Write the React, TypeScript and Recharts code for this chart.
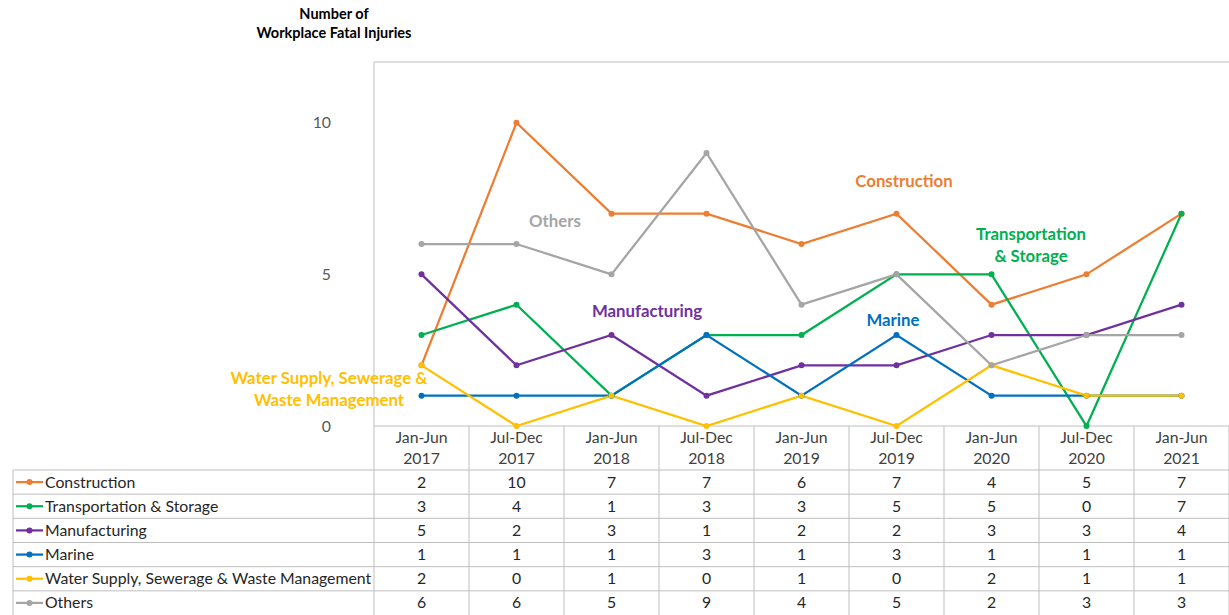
import React from "react";
import { LineChart, Line, XAxis, YAxis, ReferenceLine } from "recharts";

const periods = [
  "Jan-Jun 2017",
  "Jul-Dec 2017",
  "Jan-Jun 2018",
  "Jul-Dec 2018",
  "Jan-Jun 2019",
  "Jul-Dec 2019",
  "Jan-Jun 2020",
  "Jul-Dec 2020",
  "Jan-Jun 2021",
];

const construction = [2, 10, 7, 7, 6, 7, 4, 5, 7];
const transport = [3, 4, 1, 3, 3, 5, 5, 0, 7];
const manufacturing = [5, 2, 3, 1, 2, 2, 3, 3, 4];
const marine = [1, 1, 1, 3, 1, 3, 1, 1, 1];
const water = [2, 0, 1, 0, 1, 0, 2, 1, 1];
const others = [6, 6, 5, 9, 4, 5, 2, 3, 3];

const yTicks = [0, 5, 10];

const series = [
  { key: "construction", name: "Construction", color: "#ED7D31", values: construction },
  { key: "transport", name: "Transportation & Storage", color: "#00B050", values: transport },
  { key: "manufacturing", name: "Manufacturing", color: "#7030A0", values: manufacturing },
  { key: "marine", name: "Marine", color: "#0070C0", values: marine },
  { key: "water", name: "Water Supply, Sewerage & Waste Management", color: "#FFC000", values: water },
  { key: "others", name: "Others", color: "#A5A5A5", values: others },
];

const data = periods.map((p, i) => {
  const row: Record<string, string | number> = { period: p };
  series.forEach((s) => (row[s.key] = s.values[i]));
  return row;
});

const W = 1229;
const H = 615;
const PLOT_LEFT = 374;
const PLOT_TOP = 62;
const AXIS_Y = 426;
const HEADER_BOTTOM = 470;
const ROW_H = (H - HEADER_BOTTOM) / 6;
const COL_W = (W - PLOT_LEFT) / periods.length;
const GRID = "#BFBFBF";
const FONT = "Lato, 'Open Sans', sans-serif";
const TEXT = "#262626";
const FS = 15.8;

function ColumnTick(props: any) {
  const { x, payload } = props;
  const idx = payload.index;
  const [half, year] = String(payload.value).split(" ");
  const left = x - COL_W / 2;
  return (
    <g fontFamily={FONT}>
      <line x1={left} x2={left} y1={AXIS_Y} y2={H} stroke={GRID} />
      {idx === periods.length - 1 && (
        <line x1={left + COL_W} x2={left + COL_W} y1={AXIS_Y} y2={H} stroke={GRID} />
      )}
      <text x={x} y={443} textAnchor="middle" fontSize={FS} fill="#404040">
        {half}
      </text>
      <text x={x} y={464} textAnchor="middle" fontSize={FS} fill="#404040">
        {year}
      </text>
      {series.map((s, r) => (
        <text
          key={s.key}
          x={x}
          y={HEADER_BOTTOM + ROW_H * r + ROW_H / 2 + 5.5}
          textAnchor="middle"
          fontSize={FS}
          fill={TEXT}
        >
          {s.values[idx]}
        </text>
      ))}
    </g>
  );
}

const annotations = [
  { lines: ["Construction"], x: 904, y: 181, color: "#ED7D31" },
  { lines: ["Transportation", "& Storage"], x: 1031, y: 234, color: "#00B050" },
  { lines: ["Others"], x: 555, y: 221, color: "#A5A5A5" },
  { lines: ["Manufacturing"], x: 647, y: 311, color: "#7030A0" },
  { lines: ["Marine"], x: 893, y: 320, color: "#0070C0" },
  { lines: ["Water Supply, Sewerage &", "Waste Management"], x: 329, y: 378, color: "#FFC000" },
];

export default function App() {
  return (
    <div style={{ position: "absolute", left: 0, top: 0, width: W, height: H, background: "#fff" }}>
      <LineChart
        width={W}
        height={H}
        data={data}
        margin={{ top: PLOT_TOP, right: 0, bottom: 0, left: 0 }}
      >
        <XAxis
          dataKey="period"
          height={H - AXIS_Y}
          padding={{ left: COL_W / 2, right: COL_W / 2 }}
          axisLine={{ stroke: GRID }}
          tickLine={false}
          tickSize={0}
          interval={0}
          tick={<ColumnTick />}
        />
        <YAxis
          width={PLOT_LEFT}
          domain={[0, 12]}
          ticks={yTicks}
          axisLine={{ stroke: GRID }}
          tickLine={false}
          tickSize={0}
          tickMargin={43}
          tick={{ fontSize: FS, fill: "#595959", fontFamily: FONT }}
        />
        <ReferenceLine y={12} stroke={GRID} />
        {series.map((s) => (
          <Line
            key={s.key}
            dataKey={s.key}
            name={s.name}
            stroke={s.color}
            strokeWidth={2.25}
            dot={{ r: 3, fill: s.color, stroke: s.color, strokeWidth: 0 }}
            isAnimationActive={false}
          />
        ))}
      </LineChart>
      <svg
        width={W}
        height={H}
        style={{ position: "absolute", left: 0, top: 0, pointerEvents: "none" }}
        fontFamily={FONT}
      >
        <text x={334} y={19} textAnchor="middle" fontSize={14.5} fontWeight={700} fill="#000">
          Number of
        </text>
        <text x={334} y={38} textAnchor="middle" fontSize={14.5} fontWeight={700} fill="#000">
          Workplace Fatal Injuries
        </text>
        {annotations.map((a) =>
          a.lines.map((ln, i) => (
            <text
              key={a.color + i}
              x={a.x}
              y={a.y + i * 22 + 5.5}
              textAnchor="middle"
              fontSize={16.8}
              fontWeight={700}
              fill={a.color}
            >
              {ln}
            </text>
          ))
        )}
        <line x1={13} x2={13} y1={HEADER_BOTTOM} y2={H} stroke={GRID} />
        {series.map((s, r) => {
          const top = HEADER_BOTTOM + ROW_H * r;
          const cy = top + ROW_H / 2;
          return (
            <g key={s.key}>
              <line x1={13} x2={W} y1={top} y2={top} stroke={GRID} />
              <line x1={16} x2={43} y1={cy} y2={cy} stroke={s.color} strokeWidth={2.25} />
              <circle cx={29.5} cy={cy} r={3} fill={s.color} />
              <text x={45} y={cy + 5.5} fontSize={FS} fill={TEXT}>
                {s.name}
              </text>
            </g>
          );
        })}
      </svg>
    </div>
  );
}
